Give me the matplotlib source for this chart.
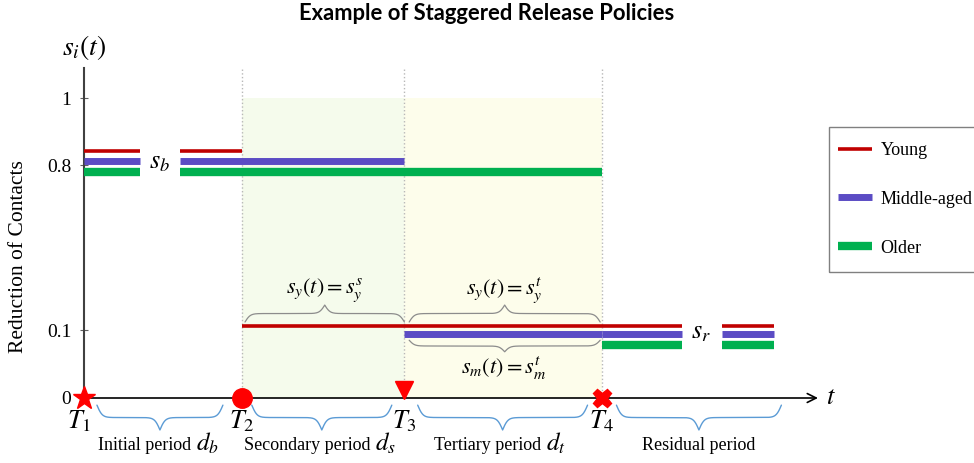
import numpy as np
import matplotlib
matplotlib.use("Agg")
import matplotlib.pyplot as plt
from matplotlib.patches import Rectangle

plt.rcParams['font.family'] = ['Liberation Serif', 'DejaVu Serif']
plt.rcParams['mathtext.fontset'] = 'stix'

# Tiempos de cambio de politica (unidades arbitrarias)
tiempos = [0.0, 1.0, 2.03, 3.28]
etiquetasT = ['$T_1$', '$T_2$', '$T_3$', '$T_4$']
tFin = 4.65

# Niveles de reduccion de contactos por grupo
grupos = ['Young', 'Middle-aged', 'Older']
nivelInicial = [0.842, 0.812, 0.770]      # s_b
nivelSecundario = [0.117, 0.812, 0.770]   # young liberado en T2
nivelTerciario = [0.117, 0.094, 0.770]    # middle liberado en T3
nivelResidual = [0.117, 0.094, 0.078]     # s_r

# tramos cortados donde va la etiqueta s_b / s_r
tramoInicial = [(0.0, 0.354), (0.608, None)]
tramoResidual = [(3.28, 3.79), (4.04, 4.37)]

periodos = ['Initial period', 'Secondary period', 'Tertiary period', 'Residual period']
duraciones = ['$d_b$', '$d_s$', '$d_t$', '']
tramosPeriodo = [(0.082, 0.88), (1.063, 1.95), (2.114, 3.19), (3.373, 4.418)]

ticksY = [0, 0.1, 0.8, 1]
etiquetasY = ['0', '0.1', '0.8', '1']

colores = ['#c00000', '#5b4cc4', '#00b050']
anchos = [2.6, 5, 6]

# escala no lineal del eje y (el dibujo original no es proporcional)
nudosValor = [-1, 0, 0.1, 0.8, 1, 2]
nudosPix = [-680, 0, 68, 233, 300, 635]
def adelante(v):
    return np.interp(v, nudosValor, nudosPix)
def atras(p):
    return np.interp(p, nudosPix, nudosValor)

def llave(ax, x0, x1, yBorde, yPunta, color, lw=1.0, beta=60):
    # llave con sigmoides, forma 0 en los bordes, 0.5 plana, 1 en la punta
    n = 200
    xs = np.linspace(x0, x1, 2*n - 1)
    mitad = xs[:n]
    f = 1/(1 + np.exp(-beta*(mitad - mitad[0]))) + 1/(1 + np.exp(-beta*(mitad - mitad[-1])))
    f = np.concatenate([f, f[-2::-1]]) - 0.5
    ys = yBorde + f*(yPunta - yBorde)
    ax.plot(xs, ys, color=color, lw=lw, clip_on=False, solid_capstyle='round')


fig = plt.figure(figsize=(9.74, 4.63), dpi=100)
ax = fig.add_axes([84/974, 65/463, 734/974, 330/463])
ax.set_yscale('function', functions=(adelante, atras))
ax.set_xlim(0, tFin)
ax.set_ylim(0, 1.09)

# zonas sombreadas
ax.fill_between([tiempos[1], tiempos[2]], 0, 1, color='#f5fbec', lw=0, zorder=0)
ax.fill_between([tiempos[2], tiempos[3]], 0, 1, color='#fdfdeb', lw=0, zorder=0)
for t in tiempos[1:]:
    ax.axvline(t, color='#b8b8b8', ls=':', lw=1, zorder=1)

# lineas de cada grupo
for i in range(3):
    for a, b in tramoInicial:
        if b is None:
            b = tiempos[i + 1]
        ax.plot([a, b], [nivelInicial[i], nivelInicial[i]], color=colores[i], lw=anchos[i],
                solid_capstyle='butt', zorder=3)
    if i < 2:
        ax.plot([tiempos[i + 1], tiempos[3]], [nivelTerciario[i], nivelTerciario[i]],
                color=colores[i], lw=anchos[i], solid_capstyle='butt', zorder=3)
    for a, b in tramoResidual:
        ax.plot([a, b], [nivelResidual[i], nivelResidual[i]], color=colores[i], lw=anchos[i],
                solid_capstyle='butt', zorder=3, label=grupos[i] if a == tramoResidual[0][0] else None)

ax.text(0.48, 0.806, '$s_b$', fontsize=19, ha='center', va='center')
ax.text(3.91, 0.096, '$s_r$', fontsize=19, ha='center', va='center')

# llaves grises y ecuaciones
llave(ax, 1.02, 2.03, 0.134, 0.206, '#8c8c8c', lw=0.9)
llave(ax, 2.06, 3.27, 0.134, 0.206, '#8c8c8c', lw=0.9)
llave(ax, 2.06, 3.27, 0.085, 0.068, '#8c8c8c', lw=0.9)
ax.text(1.525, 0.27, '$s_y(t) = s_y^s$', fontsize=16, ha='center', va='center')
ax.text(2.66, 0.27, '$s_y(t) = s_y^t$', fontsize=16, ha='center', va='center')
ax.text(2.66, 0.044, '$s_m(t) = s_m^t$', fontsize=16, ha='center', va='center')

# eje x con flecha
ax.annotate('', xy=(tFin, 0), xytext=(0, 0), annotation_clip=False,
            arrowprops=dict(arrowstyle='->', lw=1.2, color='black', shrinkA=0, shrinkB=0,
                            mutation_scale=16))
ax.text(tFin + 0.08, 0, '$t$', fontsize=19, ha='center', va='center')

# marcadores de los tiempos
ax.plot(tiempos[0], 0, marker='*', ms=17, color='red', clip_on=False, zorder=5)
ax.plot(tiempos[1], 0, marker='o', ms=14, color='red', clip_on=False, zorder=5)
ax.plot(tiempos[2], 0.012, marker='v', ms=13, color='red', clip_on=False, zorder=5)
ax.plot(tiempos[3], 0, marker='X', ms=13, color='red', clip_on=False, zorder=5)

for t, lab in zip(tiempos, etiquetasT):
    xt = t - 0.03 if t == 0 else t
    ax.text(xt, -0.034, lab, fontsize=19, ha='center', va='center')

for (a, b), nombre, d in zip(tramosPeriodo, periodos, duraciones):
    llave(ax, a, b, -0.0105, -0.047, '#5b9bd5', lw=1.0)
    if d:
        # las palabras algo a la izquierda y la d grande pegada a la derecha
        txt = ax.text((a + b)/2 - 0.08, -0.077, nombre + ' ', fontsize=13,
                      ha='center', va='baseline')
        ax.annotate(d, xy=(1, 0), xycoords=txt, fontsize=18, ha='left', va='bottom',
                    xytext=(0, -1.5), textcoords='offset points')
    else:
        ax.text((a + b)/2, -0.077, nombre, fontsize=13, ha='center', va='baseline')

# eje y
ax.spines['top'].set_visible(False)
ax.spines['right'].set_visible(False)
ax.spines['bottom'].set_visible(False)
ax.spines['left'].set_color('#404040')
ax.spines['left'].set_linewidth(1.5)
ax.set_xticks([])
ax.set_yticks(ticksY)
ax.set_yticklabels(etiquetasY, fontsize=14)
ax.minorticks_off()
ax.tick_params(axis='y', direction='inout', length=6, color='#606060', pad=6)
ax.set_ylabel('Reduction of Contacts', fontsize=15.5)
ax.yaxis.set_label_coords(-56/734, 0.43)
ax.text(0.0, 1.15, '$s_i(t)$', fontsize=20, ha='center', va='center')

fig.suptitle('Example of Staggered Release Policies', fontsize=15.8, fontweight='bold',
             family=['Lato', 'DejaVu Sans'], y=1 - 14/463, va='center')

# leyenda sin marco propio, el marco se dibuja aparte (queda cortado en el borde)
ax.legend(loc='upper left', bbox_to_anchor=(829/974, 1 - 133/463),
          bbox_transform=fig.transFigure, fontsize=13, frameon=False,
          labelspacing=1.76, handlelength=1.9, handletextpad=0.45,
          borderpad=0.5, borderaxespad=0)
fig.patches.append(Rectangle((829/974, 191/463), 160/974, 145/463, transform=fig.transFigure,
                             fill=False, edgecolor='#808080', lw=1))

fig.savefig('out.png', dpi=100)
